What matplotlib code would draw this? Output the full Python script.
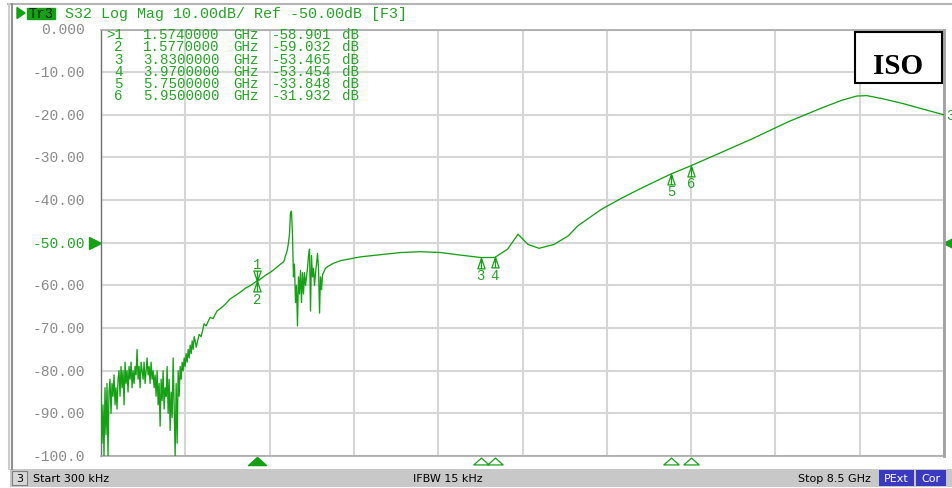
import numpy as np
import matplotlib
matplotlib.use('Agg')
import matplotlib.pyplot as plt
from matplotlib.lines import Line2D
from matplotlib.patches import Rectangle, Polygon
from matplotlib.path import Path
from matplotlib.transforms import blended_transform_factory

# ---------------- data ----------------
start_ghz, stop_ghz = 0.0003, 8.5

# noisy low-frequency part (one sweep point per ~0.01 GHz, 0.0003..0.95 GHz)
noise_db = [-85, -97, -88, -100, -84, -95, -83, -100, -85, -82,
            -90, -83, -86, -81, -88, -84, -89, -82, -80, -86,
            -79, -84, -80, -88, -78, -83, -80, -85, -79, -82,
            -78, -84, -80, -83, -79, -81, -75, -82, -79, -84,
            -78, -80, -82, -78, -83, -80, -77, -81, -79, -83,
            -78, -82, -80, -84, -81, -86, -80, -88, -83, -93,
            -82, -87, -80, -89, -84, -86, -79, -90, -82, -94,
            -85, -91, -77, -89, -100, -83, -97, -80, -86, -79,
            -82, -78, -80, -77, -79, -76, -78, -75, -77, -74,
            -76, -73, -75, -72, -73]

rise_f = [0.96, 0.99, 1.01, 1.04, 1.06, 1.10, 1.13, 1.17, 1.20, 1.25, 1.30,
          1.36, 1.41, 1.46, 1.51, 1.574, 1.577, 1.62, 1.66, 1.71, 1.76, 1.80]
rise_db = [-74.5, -71.5, -72.0, -69.0, -69.5, -67.5, -67.8, -66.0, -65.5, -64.5, -63.2,
           -62.3, -61.5, -60.6, -60.0, -58.901, -59.032, -58.3, -57.6, -56.9, -56.0, -55.2]

# resonance region 1.84..2.244 GHz
spike_db = [-54.5, -54, -53, -52.5, -51.5, -50, -48, -43, -42.6, -48,
            -58, -55, -64, -60, -69.5, -58, -62, -56.5, -64, -57,
            -62, -57, -60, -58, -56, -53, -51.5, -66, -53, -58,
            -56, -60, -57, -55, -52.5, -56, -66.5, -58, -61, -57.5, -57]

post_f = [2.264, 2.284, 2.345, 2.416, 2.618, 2.82, 3.02, 3.22, 3.426, 3.628, 3.83,
          3.97, 4.10, 4.205, 4.306, 4.417, 4.568, 4.71, 4.81, 5.043, 5.245, 5.448,
          5.75, 5.95, 6.256, 6.56, 6.933, 7.267, 7.469, 7.621, 7.722, 7.874, 8.076,
          8.278, 8.5]
post_db = [-56.0, -55.6, -54.8, -54.2, -53.3, -52.8, -52.3, -52.1, -52.3, -52.9, -53.465,
           -53.454, -51.5, -48.0, -50.4, -51.3, -50.4, -48.4, -46.0, -42.2, -39.6, -37.2,
           -33.848, -31.932, -28.8, -25.7, -21.6, -18.4, -16.6, -15.6, -15.5, -16.2, -17.3,
           -18.6, -20.0]

marker_ids = ['1', '2', '3', '4', '5', '6']
marker_f = [1.574, 1.577, 3.83, 3.97, 5.75, 5.95]
marker_db = [-58.901, -59.032, -53.465, -53.454, -33.848, -31.932]
marker_f_txt = ['1.5740000', '1.5770000', '3.8300000', '3.9700000', '5.7500000', '5.9500000']
marker_db_txt = ['-58.901', '-59.032', '-53.465', '-53.454', '-33.848', '-31.932']

y_ticks = [0, -10, -20, -30, -40, -50, -60, -70, -80, -90, -100]
y_tick_labels = ['0.000', '-10.00', '-20.00', '-30.00', '-40.00', '-50.00',
                 '-60.00', '-70.00', '-80.00', '-90.00', '-100.0']

# ---------------- figure ----------------
W, H = 953, 489
fig = plt.figure(figsize=(W / 100, H / 100), dpi=100)
fig.patch.set_facecolor('white')

def fx(x):
    return x / W

def fy(y):
    return 1 - y / H

GREEN = '#16a016'
TGREEN = '#22a422'
GRAYT = '#8a8a8a'
MONO = 'Liberation Mono'

AX_L, AX_R, AX_T, AX_B = 101, 944, 30.5, 457
ax = fig.add_axes([fx(AX_L), fy(AX_B), (AX_R - AX_L) / W, (AX_B - AX_T) / H])
ax.set_xlim(start_ghz, stop_ghz)
ax.set_ylim(-100, 0)
ax.set_xticks(np.linspace(start_ghz, stop_ghz, 11))
ax.set_yticks(y_ticks)
ax.grid(True, color='#d6d6d6', lw=1.5)
ax.set_axisbelow(True)
ax.tick_params(length=0, labelbottom=False, labelleft=False)
ax.spines['left'].set_color('#707070'); ax.spines['left'].set_linewidth(1)
for s in ['top', 'bottom']:
    ax.spines[s].set_color('#a8a8a8'); ax.spines[s].set_linewidth(1.2)
ax.spines['right'].set_color('#a0a0a0'); ax.spines['right'].set_linewidth(2)

freq = np.concatenate([np.linspace(start_ghz, 0.95, len(noise_db)), rise_f,
                       np.linspace(1.840, 2.244, len(spike_db)), post_f])
mag = np.concatenate([noise_db, rise_db, spike_db, post_db])
ax.plot(freq, mag, color=GREEN, lw=0.95, zorder=3)

# y tick labels
tyx = blended_transform_factory(ax.transAxes, ax.transData)
for v, lab in zip(y_ticks, y_tick_labels):
    ax.text(-0.019, v, lab, transform=tyx, ha='right', va='center',
            fontsize=10.5, family=MONO, color=(TGREEN if v == -50 else GRAYT), clip_on=False)

# reference level arrows
ax.plot([-0.0075], [-50], transform=tyx, marker='>', ms=8.5, color=GREEN, clip_on=False, ls='none')
ax.plot([1.0065], [-50], transform=tyx, marker='<', ms=8.5, color=GREEN, clip_on=False, ls='none')

# marker glyphs
tri_up = Path([(0, 0), (-0.35, -1), (0.35, -1), (0, 0), (0, 0), (0, -1)],
              [Path.MOVETO, Path.LINETO, Path.LINETO, Path.CLOSEPOLY, Path.MOVETO, Path.LINETO])
tri_dn = Path([(0, 0), (-0.35, 1), (0.35, 1), (0, 0), (0, 0), (0, 1)],
              [Path.MOVETO, Path.LINETO, Path.LINETO, Path.CLOSEPOLY, Path.MOVETO, Path.LINETO])
for i, (mid, mf, md) in enumerate(zip(marker_ids, marker_f, marker_db)):
    if i == 0:
        ax.plot([mf], [md], marker=tri_dn, ms=15, mfc='white', mec=GREEN, mew=0.9,
                ls='none', zorder=5, clip_on=False)
        ax.annotate(mid, (mf, md), xytext=(0, 12), textcoords='offset points',
                    ha='center', va='center', fontsize=10, family=MONO, color=TGREEN)
    else:
        ax.plot([mf], [md], marker=tri_up, ms=15, mfc='white', mec=GREEN, mew=0.9,
                ls='none', zorder=5, clip_on=False)
        ax.annotate(mid, (mf, md), xytext=(0, -12.5), textcoords='offset points',
                    ha='center', va='center', fontsize=10, family=MONO, color=TGREEN)

# bottom marker indicators
txa = blended_transform_factory(ax.transData, ax.transAxes)
flat_tri = Path([(-1, -0.45), (1, -0.45), (0, 0.45), (-1, -0.45)],
                [Path.MOVETO, Path.LINETO, Path.LINETO, Path.CLOSEPOLY])
for i, mf in enumerate(marker_f):
    if i == 0:
        continue
    ax.plot([mf], [-0.011], transform=txa, marker=flat_tri, ms=11, mfc='white',
            mec=GREEN, mew=0.9, ls='none', clip_on=False)
ax.plot([marker_f[0]], [-0.011], transform=txa, marker=flat_tri, ms=13, color=GREEN,
        ls='none', clip_on=False)

# trace number at end
ax.text(1.003, post_db[-1], '3', transform=tyx, ha='left', va='center', fontsize=10,
        family=MONO, color=TGREEN, clip_on=False)

# marker table (one multi-line text per column)
TFS = 10.2
LS = 0.84
TY = 65.8
num_col = '\n'.join([('>' if k == 0 else '') + m for k, m in enumerate(marker_ids)])
cols = [(123, 'right', num_col),
        (143, 'left', '\n'.join(marker_f_txt)),
        (233, 'left', '\n'.join(['GHz'] * len(marker_ids))),
        (272, 'left', '\n'.join(marker_db_txt)),
        (342, 'left', '\n'.join(['dB'] * len(marker_ids)))]
for x, ha, txt in cols:
    fig.text(fx(x), fy(TY), txt, ha=ha, va='center', multialignment=ha, fontsize=TFS,
             family=MONO, color=TGREEN, linespacing=LS)

# header
fig.add_artist(Polygon([(fx(17), fy(8.5)), (fx(17), fy(19.5)), (fx(25), fy(14))],
                       closed=True, color=GREEN, transform=fig.transFigure))
fig.add_artist(Rectangle((fx(27), fy(20)), 28 / W, 11 / H, color=GREEN, transform=fig.transFigure))
fig.text(fx(41), fy(14.2), 'Tr3', ha='center', va='center', fontsize=10, family=MONO, color='#0a2a0a')
fig.text(fx(65), fy(14.2), 'S32 Log Mag 10.00dB/ Ref -50.00dB [F3]', ha='left', va='center',
         fontsize=10.8, family=MONO, color=TGREEN)

# ISO box
fig.add_artist(Rectangle((fx(855), fy(84)), 87 / W, 51 / H, facecolor='white', edgecolor='black',
                         lw=1.5, transform=fig.transFigure, zorder=10))
fig.text(fx(898), fy(66), 'ISO', ha='center', va='center', fontsize=21, fontweight='bold',
         family='Liberation Serif', color='black', zorder=11)

# frame
fig.add_artist(Line2D([fx(8), fx(953)], [fy(5), fy(5)], color='#b4b4b4', lw=1.5, transform=fig.transFigure))
fig.add_artist(Line2D([fx(9), fx(9)], [fy(5), fy(470)], color='#cccccc', lw=1.5, transform=fig.transFigure))
fig.add_artist(Line2D([fx(12), fx(12)], [fy(5), fy(470)], color='#909090', lw=1.5, transform=fig.transFigure))

# status bar
fig.add_artist(Rectangle((fx(10), fy(488)), 943 / W, 18 / H, facecolor='#c8c8c8', edgecolor='none',
                         transform=fig.transFigure))
fig.add_artist(Rectangle((fx(12), fy(486)), 15 / W, 14 / H, facecolor='#d8d8d8', edgecolor='#808080',
                         lw=0.8, transform=fig.transFigure))
fig.text(fx(19.5), fy(479), '3', ha='center', va='center', fontsize=8, color='black')
fig.text(fx(33), fy(479), 'Start 300 kHz', ha='left', va='center', fontsize=8, color='black')
fig.text(fx(448), fy(479), 'IFBW 15 kHz', ha='center', va='center', fontsize=8, color='black')
fig.text(fx(871), fy(479), 'Stop 8.5 GHz', ha='right', va='center', fontsize=8, color='black')
fig.add_artist(Rectangle((fx(879), fy(487)), 35 / W, 16 / H, facecolor='#3a3ac0', edgecolor='none',
                         transform=fig.transFigure))
fig.text(fx(896.5), fy(479), 'PExt', ha='center', va='center', fontsize=8, color='white')
fig.add_artist(Rectangle((fx(916), fy(487)), 30 / W, 16 / H, facecolor='#3a3ac0', edgecolor='none',
                         transform=fig.transFigure))
fig.text(fx(931), fy(479), 'Cor', ha='center', va='center', fontsize=8, color='white')

fig.savefig('out.png', dpi=100, facecolor='white')
